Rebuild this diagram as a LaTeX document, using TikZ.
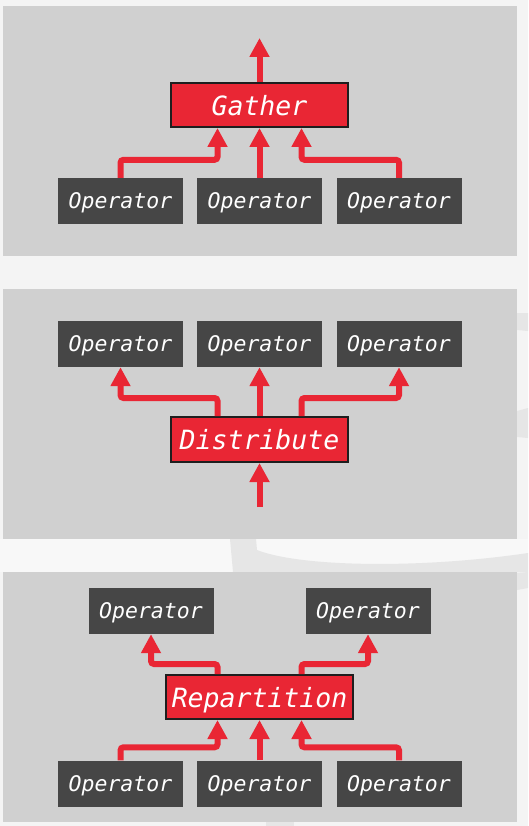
\documentclass[tikz,border=0pt]{standalone}
\usepackage{fontspec}
\usepackage{tikz}
\usetikzlibrary{arrows.meta,positioning,calc}
\newfontfamily\opfont{DejaVu Sans Mono}
\definecolor{exred}{RGB}{233,38,52}
\definecolor{opgray}{RGB}{70,70,70}
\definecolor{panelgray}{RGB}{208,208,208}
\definecolor{pagebg}{RGB}{244,244,244}
\definecolor{markgray}{RGB}{230,230,230}
\definecolor{edgeblk}{RGB}{30,30,30}
\begin{document}
\begin{tikzpicture}[x=1pt,y=-1pt,
  op/.style={fill=opgray, text=white, minimum width=125pt, minimum height=46pt,
    inner sep=0pt, text depth=0pt, font=\opfont\itshape\fontsize{21.5}{21.5}\selectfont},
  xchg/.style={fill=exred, draw=edgeblk, line width=2pt, minimum height=44pt,
    inner sep=0pt, text depth=0pt, text=white, font=\opfont\itshape\fontsize{26.5}{26.5}\selectfont},
  flow/.style={draw=exred, line width=6pt, rounded corners=3pt,
    -{Triangle[width=19pt,length=19pt]}},
  panel/.style={fill=panelgray}]
\useasboundingbox (0,0) rectangle (528,826);
% Page and faint watermark
\fill[pagebg] (0,0) rectangle (528,826);
\fill[white!40!pagebg] (0,539) rectangle (528,572);
\fill[markgray] (230,539) -- (256,539) -- (257,550) .. controls (300,567) and (420,569) .. (528,553) -- (528,572) -- (233,572) -- cycle;
\fill[markgray] (517,313) -- (528,313) -- (528,331) -- (517,330) -- cycle;
\fill[markgray] (517,411) -- (528,408) -- (528,438) -- (517,437) -- cycle;
\fill[markgray] (517,573) -- (528,572) -- (528,588) -- (517,590) -- cycle;
\fill[markgray] (266,822) rectangle (294,826);
% Panels
\fill[panel] (3,6) rectangle (517,256);
\fill[panel] (3,289) rectangle (517,539);
\fill[panel] (3,572) rectangle (517,822);
%
% Gather
\node[xchg, minimum width=177pt] (gather) at (259.5,105) {Gather};
\node[op] (g1) at (120.5,201) {Operator};
\node[op] (g2) at (259.5,201) {Operator};
\node[op] (g3) at (399,201) {Operator};
\coordinate (gout) at (259.5,38);
\draw[flow] (gather.north) -- (gout);
\draw[flow] (g1.north) -- ++(0,-18) -| ([xshift=-42pt]gather.south);
\draw[flow] (g2.north) -- (gather.south);
\draw[flow] (g3.north) -- ++(0,-18) -| ([xshift=42pt]gather.south);
%
% Distribute
\node[xchg, minimum width=177pt, minimum height=45pt] (dist) at (259.5,439.5) {Distribute};
\node[op] (d1) at (120.5,344) {Operator};
\node[op] (d2) at (259.5,344) {Operator};
\node[op] (d3) at (399,344) {Operator};
\coordinate (din) at (259.5,507);
\draw[flow] (din) -- (dist.south);
\draw[flow] ([xshift=-42pt]dist.north) -- ++(0,-18) -| (d1.south);
\draw[flow] (dist.north) -- (d2.south);
\draw[flow] ([xshift=42pt]dist.north) -- ++(0,-18) -| (d3.south);
%
% Repartition
\node[xchg, minimum width=187pt] (repart) at (259.5,697) {Repartition};
\node[op] (r1) at (151,611) {Operator};
\node[op] (r2) at (368,611) {Operator};
\node[op] (b1) at (120.5,783.5) {Operator};
\node[op] (b2) at (259.5,783.5) {Operator};
\node[op] (b3) at (399,783.5) {Operator};
\draw[flow] ([xshift=-42pt]repart.north) -- ++(0,-10) -| (r1.south);
\draw[flow] ([xshift=42pt]repart.north) -- ++(0,-10) -| (r2.south);
\draw[flow] (b1.north) -- ++(0,-13) -| ([xshift=-42pt]repart.south);
\draw[flow] (b2.north) -- (repart.south);
\draw[flow] (b3.north) -- ++(0,-13) -| ([xshift=42pt]repart.south);
\end{tikzpicture}
\end{document}
